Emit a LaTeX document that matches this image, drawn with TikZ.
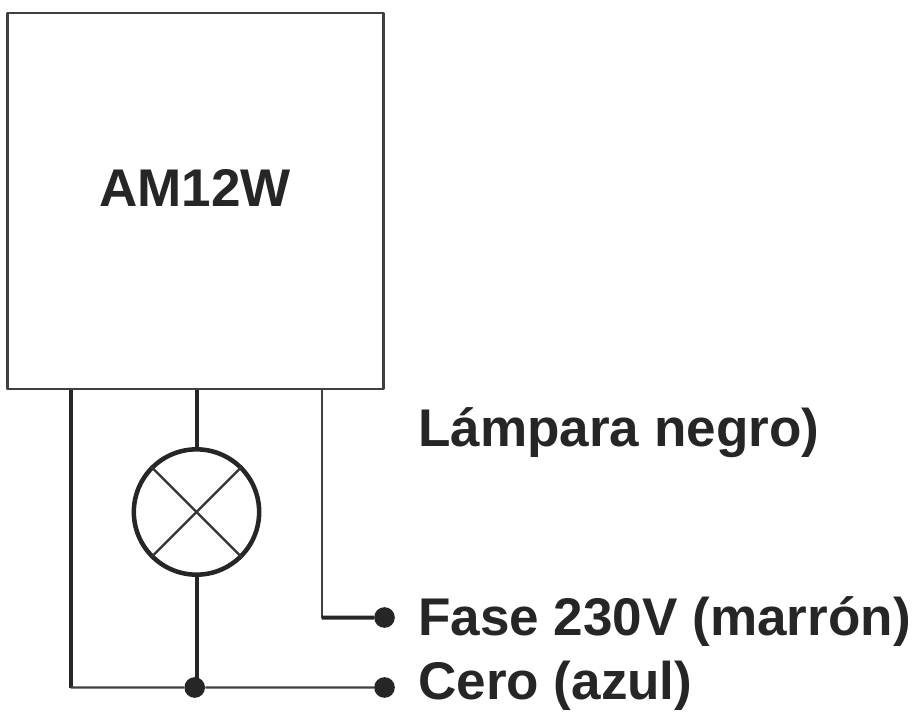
\documentclass[tikz,border=0pt]{standalone}
\usepackage{fontspec}
\setmainfont{Liberation Sans}
\begin{document}
\begin{tikzpicture}[line join=round,x=1pt,y=-1pt,scale=.75]
	\tikzset{wire/.style={line width=3pt,black!85},thinwire/.style={line width=1.7pt,black!75},
	lab/.style={font=\bfseries\fontsize{39.8}{40}\selectfont,anchor=west,inner sep=0pt,black!85},
	dot/.style={circle,fill=black!85,inner sep=0pt,minimum size=15.5pt}}
	\useasboundingbox (0,0) rectangle (917,715);
	\node[draw=black!75,line width=1.9pt,minimum width=282pt,minimum height=282pt,inner sep=0pt] (box) at (195.5,201) {};
	\node[font=\bfseries\fontsize{39.8}{40}\selectfont,black!85] (name) at (195,187.5) {AM12W};
	\node[draw=black!85,circle,line width=3.4pt,minimum size=94pt,inner sep=0pt] (lamp) at (196.5,512) {};
	\draw[line width=1.7pt,black!80] (lamp.north west)--(lamp.south east) (lamp.north east)--(lamp.south west);
	\node[dot] (joint) at (194.7,687.5) {};
	\node[dot] (zero) at (384.5,687.5) {};
	\node[dot] (phase) at (384.5,617.5) {};
	\coordinate (tl) at (70.5,389.5);
	\coordinate (tm) at (196.5,389.5);
	\coordinate (tr) at (321.7,389.5);
	\coordinate (bl) at (70.5,687.5);
	\coordinate (pc) at (321.7,617.5);
	\draw[wire] (tl)--(bl);
	\draw[thinwire] (bl)--(joint)--(zero);
	\draw[wire] (tm)--(lamp.north) (lamp.south)--(lamp.south |- joint);
	\draw[thinwire] (tr)--(pc);
	\draw[wire] (pc)--(phase);
	\node[lab] (lamplab) at (418,433) {Lámpara negro)};
	\node[lab] (phaselab) at (418,622) {Fase 230V (marrón)};
	\node[lab] (zerolab) at (418,686) {Cero (azul)};
\end{tikzpicture}
\end{document}
